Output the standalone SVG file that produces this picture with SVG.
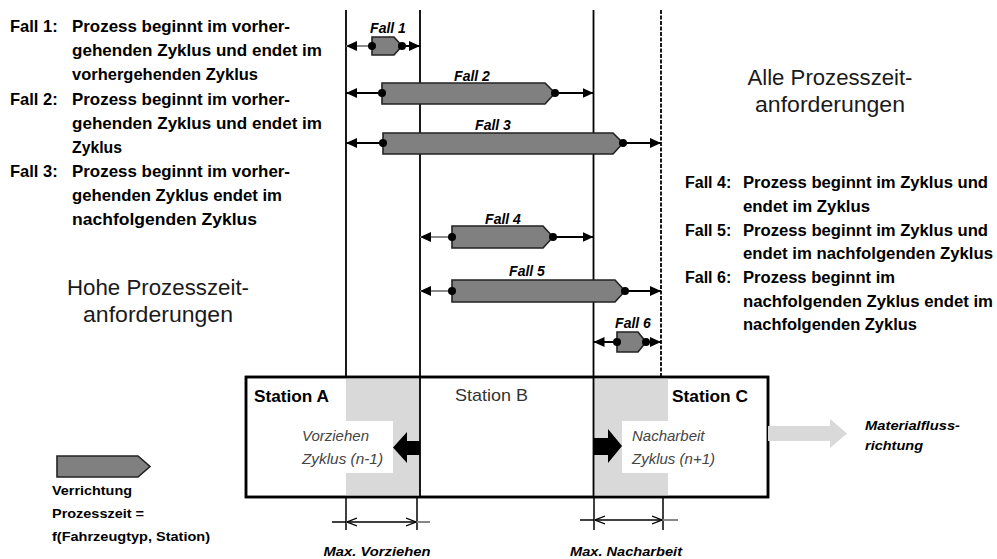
<svg xmlns="http://www.w3.org/2000/svg" width="997" height="559" viewBox="0 0 997 559">
<style>
.t{font-family:"Liberation Sans",Arial,sans-serif;fill:#000}
.b{font-weight:bold}
.desc{font-size:16.5px;font-weight:bold}
.rdesc{font-size:16px;font-weight:bold}
.head{font-size:22px;fill:#1a1a1a}
.fl{font-size:14px;font-weight:bold;font-style:italic}
.it{font-size:15px;font-style:italic;fill:#444}
.bar{fill:#808080;stroke:#222;stroke-width:1.6}
.seg{stroke:#000;stroke-width:2;fill:none}
.segg{stroke:#8a8a8a;stroke-width:2;fill:none}
.vl{stroke:#000;stroke-width:1.8}
.dot{fill:#000}
.dim{stroke:#000;stroke-width:1.5;fill:none}
</style>
<defs>
<marker id="ah" viewBox="0 0 11 10" refX="11" refY="5" markerWidth="11" markerHeight="10" markerUnits="userSpaceOnUse" orient="auto-start-reverse">
<path d="M0,0 L11,5 L0,10 z" fill="#000"/>
</marker>
<marker id="oh" viewBox="0 0 10 10" refX="10" refY="5" markerWidth="10" markerHeight="10" markerUnits="userSpaceOnUse" orient="auto-start-reverse">
<path d="M0,1 L10,5 L0,9" fill="none" stroke="#000" stroke-width="1.3"/>
</marker>
</defs>

<!-- station box -->
<g id="stations">
<rect x="246" y="377" width="522" height="120" fill="#fff" stroke="#000" stroke-width="2.5"/>
<rect x="346" y="378.5" width="74" height="117" fill="#d9d9d9"/>
<rect x="594" y="378.5" width="74" height="117" fill="#d9d9d9"/>
<rect x="346" y="421" width="47" height="52" fill="#fff"/>
<rect x="622" y="421" width="50" height="52" fill="#fff"/>
<rect x="246" y="377" width="522" height="120" fill="none" stroke="#000" stroke-width="2.5"/>
<path d="M420,441 L407,441 L407,432 L393,447.5 L407,463 L407,455 L420,455 z" fill="#000"/>
<path d="M594,438 L608,438 L608,429 L622,446 L608,463 L608,455 L594,455 z" fill="#000"/>
<text class="t b" x="254" y="402" font-size="16.5" textLength="75" lengthAdjust="spacingAndGlyphs">Station A</text>
<text class="t" x="455" y="401" font-size="17" style="fill:#333" textLength="73" lengthAdjust="spacingAndGlyphs">Station B</text>
<text class="t b" x="672" y="402" font-size="16.5" textLength="76" lengthAdjust="spacingAndGlyphs">Station C</text>
<text class="t it" x="302" y="441">Vorziehen</text>
<text class="t it" x="302" y="464" textLength="81" lengthAdjust="spacingAndGlyphs">Zyklus (n-1)</text>
<text class="t it" x="632" y="441">Nacharbeit</text>
<text class="t it" x="632" y="464" textLength="83" lengthAdjust="spacingAndGlyphs">Zyklus (n+1)</text>
</g>

<!-- vertical cycle lines -->
<g id="cycle-lines">
<line class="vl" x1="346" y1="10" x2="346" y2="377"/>
<line class="vl" x1="420" y1="10" x2="420" y2="497"/>
<line class="vl" x1="593.5" y1="10" x2="593.5" y2="497"/>
<line class="vl" x1="661" y1="10" x2="661" y2="377" stroke-dasharray="4 1.5"/>
</g>

<!-- cases -->
<g id="fall1">
<text class="t fl" x="388" y="33" text-anchor="middle">Fall 1</text>
<line class="segg" x1="372" y1="46" x2="346" y2="46" marker-end="url(#ah)"/>
<line class="seg" x1="402" y1="46" x2="420" y2="46" marker-end="url(#ah)"/>
<path class="bar" d="M372,37 L394,37 L402,46 L394,55 L372,55 z"/>
<circle class="dot" cx="372" cy="46" r="4"/><circle class="dot" cx="402" cy="46" r="4"/>
</g>
<g id="fall2">
<text class="t fl" x="472" y="81" text-anchor="middle">Fall 2</text>
<line class="seg" x1="382" y1="93" x2="346" y2="93" marker-end="url(#ah)"/>
<line class="seg" x1="555" y1="93" x2="593.5" y2="93" marker-end="url(#ah)"/>
<path class="bar" d="M382,83 L545,83 L555,93 L545,104 L382,104 z"/>
<circle class="dot" cx="382" cy="93" r="4"/><circle class="dot" cx="555" cy="93" r="4"/>
</g>
<g id="fall3">
<text class="t fl" x="493" y="130" text-anchor="middle">Fall 3</text>
<line class="seg" x1="383" y1="143" x2="346" y2="143" marker-end="url(#ah)"/>
<line class="seg" x1="623" y1="143" x2="661" y2="143" marker-end="url(#ah)"/>
<path class="bar" d="M383,133 L613,133 L623,143 L613,154 L383,154 z"/>
<circle class="dot" cx="383" cy="143" r="4"/><circle class="dot" cx="623" cy="143" r="4"/>
</g>
<g id="fall4">
<text class="t fl" x="503" y="224" text-anchor="middle">Fall 4</text>
<line class="segg" x1="452" y1="237" x2="420" y2="237" marker-end="url(#ah)"/>
<line class="seg" x1="553" y1="237" x2="593.5" y2="237" marker-end="url(#ah)"/>
<path class="bar" d="M452,226 L543,226 L553,237 L543,248 L452,248 z"/>
<circle class="dot" cx="452" cy="237" r="4"/><circle class="dot" cx="553" cy="237" r="4"/>
</g>
<g id="fall5">
<text class="t fl" x="527" y="276" text-anchor="middle">Fall 5</text>
<line class="segg" x1="452" y1="291" x2="420" y2="291" marker-end="url(#ah)"/>
<line class="seg" x1="625" y1="291" x2="661" y2="291" marker-end="url(#ah)"/>
<path class="bar" d="M452,280 L615,280 L625,291 L615,302 L452,302 z"/>
<circle class="dot" cx="452" cy="291" r="4"/><circle class="dot" cx="625" cy="291" r="4"/>
</g>
<g id="fall6">
<text class="t fl" x="633" y="328" text-anchor="middle">Fall 6</text>
<line class="seg" x1="617" y1="342" x2="593.5" y2="342" marker-end="url(#ah)"/>
<line class="seg" x1="646" y1="342" x2="661" y2="342" marker-end="url(#ah)"/>
<path class="bar" d="M617,332 L638,332 L646,342 L638,352 L617,352 z"/>
<circle class="dot" cx="617" cy="342" r="4"/><circle class="dot" cx="646" cy="342" r="4"/>
</g>

<!-- left description -->
<g id="left-text">
<text class="t desc" x="10" y="32">Fall 1:</text>
<text class="t desc" x="72" y="32" textLength="218" lengthAdjust="spacingAndGlyphs">Prozess beginnt im vorher-</text>
<text class="t desc" x="72" y="56" textLength="250" lengthAdjust="spacingAndGlyphs">gehenden Zyklus und endet im</text>
<text class="t desc" x="72" y="80" textLength="186" lengthAdjust="spacingAndGlyphs">vorhergehenden  Zyklus</text>
<text class="t desc" x="10" y="105">Fall 2:</text>
<text class="t desc" x="72" y="105" textLength="218" lengthAdjust="spacingAndGlyphs">Prozess beginnt im vorher-</text>
<text class="t desc" x="72" y="129" textLength="250" lengthAdjust="spacingAndGlyphs">gehenden Zyklus und endet im</text>
<text class="t desc" x="72" y="153" textLength="50" lengthAdjust="spacingAndGlyphs">Zyklus</text>
<text class="t desc" x="10" y="177">Fall 3:</text>
<text class="t desc" x="72" y="177" textLength="218" lengthAdjust="spacingAndGlyphs">Prozess beginnt im vorher-</text>
<text class="t desc" x="72" y="201" textLength="210" lengthAdjust="spacingAndGlyphs">gehenden Zyklus endet im</text>
<text class="t desc" x="72" y="225" textLength="185" lengthAdjust="spacingAndGlyphs">nachfolgenden Zyklus</text>
</g>

<g id="heading-left">
<text class="t head" x="158" y="295" text-anchor="middle" textLength="182" lengthAdjust="spacingAndGlyphs">Hohe Prozesszeit-</text>
<text class="t head" x="158" y="322" text-anchor="middle" textLength="150" lengthAdjust="spacingAndGlyphs">anforderungen</text>
</g>
<g id="heading-right">
<text class="t head" x="830" y="85" text-anchor="middle" textLength="165" lengthAdjust="spacingAndGlyphs">Alle Prozesszeit-</text>
<text class="t head" x="830" y="112" text-anchor="middle" textLength="150" lengthAdjust="spacingAndGlyphs">anforderungen</text>
</g>

<!-- right description -->
<g id="right-text">
<text class="t rdesc" x="685" y="188">Fall 4:</text>
<text class="t rdesc" x="743" y="188" textLength="245" lengthAdjust="spacingAndGlyphs">Prozess beginnt im Zyklus und</text>
<text class="t rdesc" x="743" y="212" textLength="127" lengthAdjust="spacingAndGlyphs">endet im Zyklus</text>
<text class="t rdesc" x="685" y="236">Fall 5:</text>
<text class="t rdesc" x="743" y="236" textLength="245" lengthAdjust="spacingAndGlyphs">Prozess beginnt im Zyklus und</text>
<text class="t rdesc" x="743" y="259" textLength="250" lengthAdjust="spacingAndGlyphs">endet im nachfolgenden Zyklus</text>
<text class="t rdesc" x="685" y="283">Fall 6:</text>
<text class="t rdesc" x="743" y="283" textLength="152" lengthAdjust="spacingAndGlyphs">Prozess beginnt im</text>
<text class="t rdesc" x="743" y="307" textLength="250" lengthAdjust="spacingAndGlyphs">nachfolgenden Zyklus endet im</text>
<text class="t rdesc" x="743" y="330" textLength="174" lengthAdjust="spacingAndGlyphs">nachfolgenden Zyklus</text>
</g>

<!-- material flow -->
<g id="materialfluss">
<path d="M768,426 L830,426 L830,419 L847,433.5 L830,448 L830,441 L768,441 z" fill="#d9d9d9"/>
<text class="t b" x="865" y="430" font-size="13" font-style="italic" textLength="95" lengthAdjust="spacingAndGlyphs">Materialfluss-</text>
<text class="t b" x="865" y="450" font-size="13" font-style="italic" textLength="58" lengthAdjust="spacingAndGlyphs">richtung</text>
</g>

<!-- legend -->
<g id="legend">
<path class="bar" d="M57,456 L138,456 L150,466.5 L138,477 L57,477 z"/>
<text class="t b" x="52" y="495" font-size="13" textLength="80" lengthAdjust="spacingAndGlyphs">Verrichtung</text>
<text class="t b" x="52" y="518" font-size="13" textLength="92" lengthAdjust="spacingAndGlyphs">Prozesszeit =</text>
<text class="t b" x="52" y="541" font-size="13" textLength="158" lengthAdjust="spacingAndGlyphs">f(Fahrzeugtyp, Station)</text>
</g>

<!-- dimensions -->
<g id="dimensions">
<line class="dim" x1="346" y1="497" x2="346" y2="530" stroke-width="2"/>
<line class="dim" x1="417" y1="497" x2="417" y2="530" stroke-width="2"/>
<line class="dim" x1="332" y1="522" x2="346" y2="522"/>
<line class="dim" x1="382" y1="522" x2="347" y2="522" marker-end="url(#oh)"/>
<line class="dim" x1="382" y1="522" x2="416" y2="522" marker-end="url(#oh)"/>
<line x1="417" y1="522" x2="430" y2="522" stroke="#888" stroke-width="2"/>
<text class="t b" x="377" y="556" font-size="13" font-style="italic" text-anchor="middle" textLength="107" lengthAdjust="spacingAndGlyphs">Max. Vorziehen</text>
<line class="dim" x1="594" y1="497" x2="594" y2="530" stroke-width="2"/>
<line class="dim" x1="663" y1="497" x2="663" y2="530" stroke-width="2"/>
<line class="dim" x1="580" y1="520" x2="594" y2="520"/>
<line class="dim" x1="628" y1="520" x2="595" y2="520" marker-end="url(#oh)"/>
<line class="dim" x1="628" y1="520" x2="662" y2="520" marker-end="url(#oh)"/>
<line x1="663" y1="520" x2="678" y2="520" stroke="#888" stroke-width="2"/>
<text class="t b" x="626" y="556" font-size="13" font-style="italic" text-anchor="middle" textLength="112" lengthAdjust="spacingAndGlyphs">Max. Nacharbeit</text>
</g>
</svg>
